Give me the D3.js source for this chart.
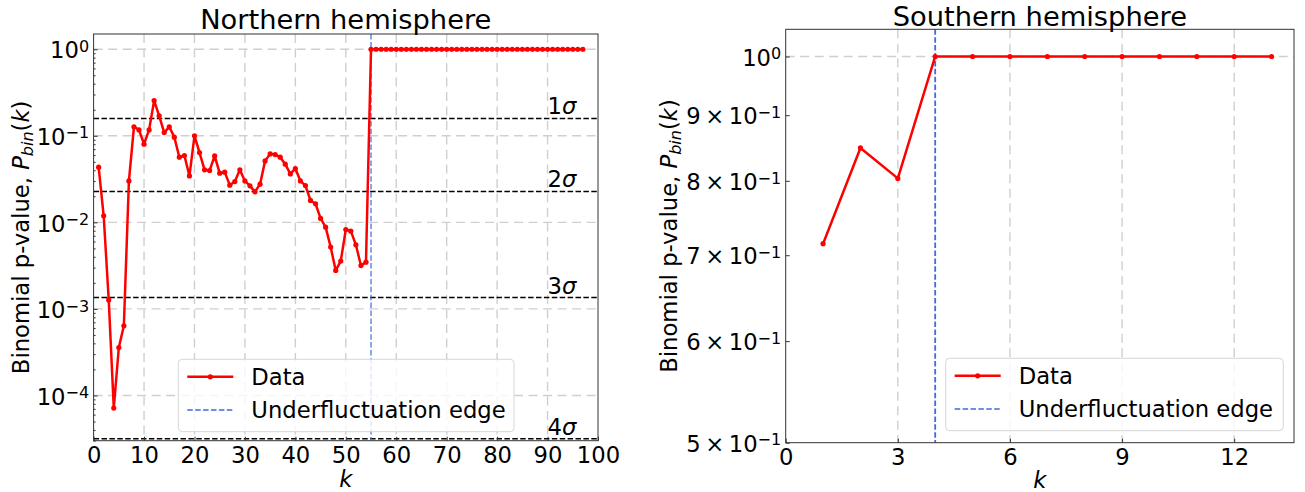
<!DOCTYPE html>
<html><head><meta charset="utf-8">
<script src="https://cdn.jsdelivr.net/npm/d3@7"></script>
<style>
body{margin:0;background:#fff}
svg{display:block}
text{font-family:"DejaVu Sans",sans-serif;fill:#000}
</style>
</head><body>
<svg id="c" width="1305" height="492"></svg>
<script>
// ---------------- data ----------------
const northK = [1,2,3,4,5,6,7,8,9,10,11,12,13,14,15,16,17,18,19,20,
  21,22,23,24,25,26,27,28,29,30,31,32,33,34,35,36,37,38,39,40,
  41,42,43,44,45,46,47,48,49,50,51,52,53,54,55,56,57,58,59,60,
  61,62,63,64,65,66,67,68,69,70,71,72,73,74,75,76,77,78,79,80,
  81,82,83,84,85,86,87,88,89,90,91,92,93,94,95,96,97];
const northP = [0.0434,0.0119,0.00127,7.15e-5,3.58e-4,6.38e-4,0.0301,0.127,0.117,0.080,
  0.117,0.255,0.170,0.109,0.127,0.0964,0.0566,0.0591,0.0344,0.0998,
  0.064,0.0404,0.0397,0.0586,0.037,0.038,0.0269,0.0296,0.0404,0.0301,
  0.0264,0.0225,0.0276,0.0513,0.0618,0.0607,0.0566,0.047,0.0363,0.0418,
  0.0301,0.0266,0.0179,0.0164,0.0111,0.0088,0.00518,0.00278,0.00357,0.00826,
  0.00791,0.0055,0.00317,0.00347,
  1,1,1,1,1,1,1,1,1,1,
  1,1,1,1,1,1,1,1,1,1,
  1,1,1,1,1,1,1,1,1,1,
  1,1,1,1,1,1,1,1,1,1,
  1,1,1];
const southK = [1,2,3,4,5,6,7,8,9,10,11,12,13];
const southP = [0.7146,0.8486,0.8035,1,1,1,1,1,1,1,1,1,1];
const northEdge = 55;
const southEdge = 4;
const sigmaVals = [0.158655, 0.02275, 0.0013499, 3.167e-5];
const sigmaLabels = ["1", "2", "3", "4"];
const northXTicks = [0,10,20,30,40,50,60,70,80,90,100];
const northYTicks = [1e-4,1e-3,1e-2,1e-1,1];
const northYExp = ["\u22124","\u22123","\u22122","\u22121","0"];
const southXTicks = [0,3,6,9,12];
const southYTicks = [0.5,0.6,0.7,0.8,0.9,1];
const southYMant = ["5","6","7","8","9",null];
const titles = ["Northern hemisphere","Southern hemisphere"];
const legendLabels = ["Data","Underfluctuation edge"];

// ---------------- setup ----------------
const svg = d3.select("#c");
const FS = 22.7, SUP = 16;
const RED = "#ff0000", BLUE = "royalblue", GRID = "#cfcfcf";

function panel(opt){
  const {x, y, K, P, edge, xTicks, yMajor, title, titleY, ylabelX, xlabelY, legendBox, edgeW} = opt;
  const g = svg.append("g");
  const [x0,x1] = x.range(); const [y0,y1] = [y.range()[1], y.range()[0]];
  const clipId = "clip"+Math.round(x0);
  g.append("clipPath").attr("id",clipId).append("rect")
    .attr("x",x0).attr("y",y0).attr("width",x1-x0).attr("height",y1-y0);
  // grid
  const grid = g.append("g").attr("stroke",GRID).attr("stroke-width",1.4).attr("stroke-dasharray","9,5.5");
  xTicks.filter(t=>t>x.domain()[0] && t<x.domain()[1]).forEach(t=>{
    grid.append("line").attr("x1",x(t)).attr("x2",x(t)).attr("y1",y0).attr("y2",y1);
  });
  yMajor.forEach(t=>{
    grid.append("line").attr("y1",y(t)).attr("y2",y(t)).attr("x1",x0).attr("x2",x1);
  });
  const plot = g.append("g").attr("clip-path",`url(#${clipId})`);
  if(opt.sigma){
    opt.sigma.forEach((s,i)=>{
      plot.append("line").attr("x1",x0).attr("x2",x1).attr("y1",y(s)).attr("y2",y(s))
        .attr("stroke","#000").attr("stroke-width",1.5).attr("stroke-dasharray","5.5,2.4");
      const t = g.append("text").attr("x",x(90)).attr("y",y(s)-4).attr("font-size",FS);
      t.append("tspan").text(sigmaLabels[i]);
      t.append("tspan").attr("font-style","italic").text("\u03c3");
    });
  }
  // edge line
  plot.append("line").attr("x1",x(edge)).attr("x2",x(edge)).attr("y1",y0).attr("y2",y1)
    .attr("stroke",BLUE).attr("stroke-width",edgeW).attr("stroke-dasharray","5.5,2.4");
  // data
  const pts = K.map((k,i)=>[k,P[i]]);
  plot.append("path").datum(pts)
    .attr("d", d3.line().x(d=>x(d[0])).y(d=>y(d[1])))
    .attr("fill","none").attr("stroke",RED).attr("stroke-width",2.5).attr("stroke-linejoin","round");
  plot.selectAll("circle.m").data(pts).join("circle").attr("class","m")
    .attr("cx",d=>x(d[0])).attr("cy",d=>y(d[1])).attr("r",2.6).attr("fill",RED);
  // legend
  const [lx,ly,lw,lh] = legendBox;
  const lg = g.append("g");
  lg.append("rect").attr("x",lx).attr("y",ly).attr("width",lw).attr("height",lh).attr("rx",4)
    .attr("fill","#fff").attr("fill-opacity",0.8).attr("stroke","#d6d6d6").attr("stroke-width",1);
  const r1 = ly+17.5, r2 = ly+50.8;
  lg.append("line").attr("x1",lx+9).attr("x2",lx+55).attr("y1",r1).attr("y2",r1).attr("stroke",RED).attr("stroke-width",2.5);
  lg.append("circle").attr("cx",lx+32).attr("cy",r1).attr("r",2.6).attr("fill",RED);
  lg.append("line").attr("x1",lx+9).attr("x2",lx+55).attr("y1",r2).attr("y2",r2).attr("stroke",BLUE).attr("stroke-width",1.5).attr("stroke-dasharray","5.5,2.4");
  lg.append("text").attr("x",lx+73).attr("y",r1+8.3).attr("font-size",FS).text(legendLabels[0]);
  lg.append("text").attr("x",lx+73).attr("y",r2+8.3).attr("font-size",FS).text(legendLabels[1]);
  // spines
  g.append("rect").attr("x",x0).attr("y",y0).attr("width",x1-x0).attr("height",y1-y0)
    .attr("fill","none").attr("stroke","#333").attr("stroke-width",1);
  // x axis
  const xa = g.append("g").attr("transform",`translate(0,${y1})`)
    .call(d3.axisBottom(x).tickValues(xTicks).tickSizeInner(-4).tickSizeOuter(0).tickPadding(0).tickFormat(d3.format("d")));
  xa.select(".domain").remove();
  xa.selectAll(".tick line").attr("stroke","#333");
  xa.selectAll("text").attr("font-size",FS).attr("font-family","DejaVu Sans").attr("fill","#000")
    .attr("dy",null).attr("y",22);
  // y axis majors/labels
  const ya = g.append("g").attr("transform",`translate(${x0},0)`)
    .call(d3.axisLeft(y).tickValues(opt.yTickVals).tickSizeInner(-4).tickSizeOuter(0).tickPadding(4.5).tickFormat(()=>""));
  ya.select(".domain").remove();
  ya.selectAll(".tick line").attr("stroke","#333");
  ya.selectAll("text").attr("font-size",FS).attr("font-family","DejaVu Sans").attr("fill","#000")
    .attr("dy",null).attr("y",8.7).each(function(d,i){
      const t = d3.select(this);
      const lab = opt.yLabel(d,i);
      if(lab.mant){ t.append("tspan").text(lab.mant+"\u2009\u00d7\u2009"); }
      t.append("tspan").text("10");
      t.append("tspan").attr("font-size",SUP).attr("dy",-6.5).text(lab.exp);
    });
  if(opt.yMinor){
    const ym = g.append("g").attr("transform",`translate(${x0},0)`)
      .call(d3.axisLeft(y).tickValues(opt.yMinor).tickSizeInner(-2).tickSizeOuter(0).tickFormat(()=>""));
    ym.select(".domain").remove();
    ym.selectAll(".tick line").attr("stroke","#333");
  }
  // title
  g.append("text").attr("x",(x0+x1)/2).attr("y",titleY).attr("text-anchor","middle").attr("font-size",27.3).text(title);
  // x label
  g.append("text").attr("x",(x0+x1)/2).attr("y",xlabelY).attr("text-anchor","middle").attr("font-size",FS)
    .attr("font-style","italic").text("k");
  // y label
  const yl = g.append("text").attr("transform",`translate(${ylabelX},${(y0+y1)/2}) rotate(-90)`)
    .attr("text-anchor","middle").attr("font-size",FS);
  yl.append("tspan").text("Binomial p-value, ");
  yl.append("tspan").attr("font-style","italic").text("P");
  yl.append("tspan").attr("font-style","italic").attr("font-size",SUP).attr("dy",4.5).text("bin");
  yl.append("tspan").attr("dy",-4.5).text("(");
  yl.append("tspan").attr("font-style","italic").text("k");
  yl.append("tspan").text(")");
}

// north panel
const xL = d3.scaleLinear().domain([0,100]).range([93.6,598]);
const yL = d3.scaleLog().domain([3e-5,1.5]).range([440.7,34]);
const northMinor = [];
[1e-5,1e-4,1e-3,1e-2,1e-1].forEach(b=>{ for(let m=2;m<=9;m++){ const v=b*m; if(v>=3e-5 && v<=1.5) northMinor.push(v);} });
panel({x:xL, y:yL, K:northK, P:northP, edge:northEdge, xTicks:northXTicks, yMajor:northYTicks,
  yTickVals:northYTicks, yLabel:(d,i)=>({exp:northYExp[i]}), yMinor:northMinor,
  sigma:sigmaVals, title:titles[0], titleY:28.5, ylabelX:28.5, xlabelY:487,
  legendBox:[178.3,359.3,335.7,72.4], edgeW:1.2});

// south panel
const xR = d3.scaleLinear().domain([0,13.6]).range([785.7,1294]);
const yR = d3.scaleLog().domain([0.5,1.05]).range([442.7,29.3]);
panel({x:xR, y:yR, K:southK, P:southP, edge:southEdge, xTicks:southXTicks, yMajor:[1],
  yTickVals:southYTicks, yLabel:(d,i)=> southYMant[i] ? {mant:southYMant[i], exp:"\u22121"} : {exp:"0"},
  title:titles[1], titleY:26, ylabelX:676.5, xlabelY:488,
  legendBox:[945.7,358.3,337.6,72.4], edgeW:1.8});
</script>
</body></html>
